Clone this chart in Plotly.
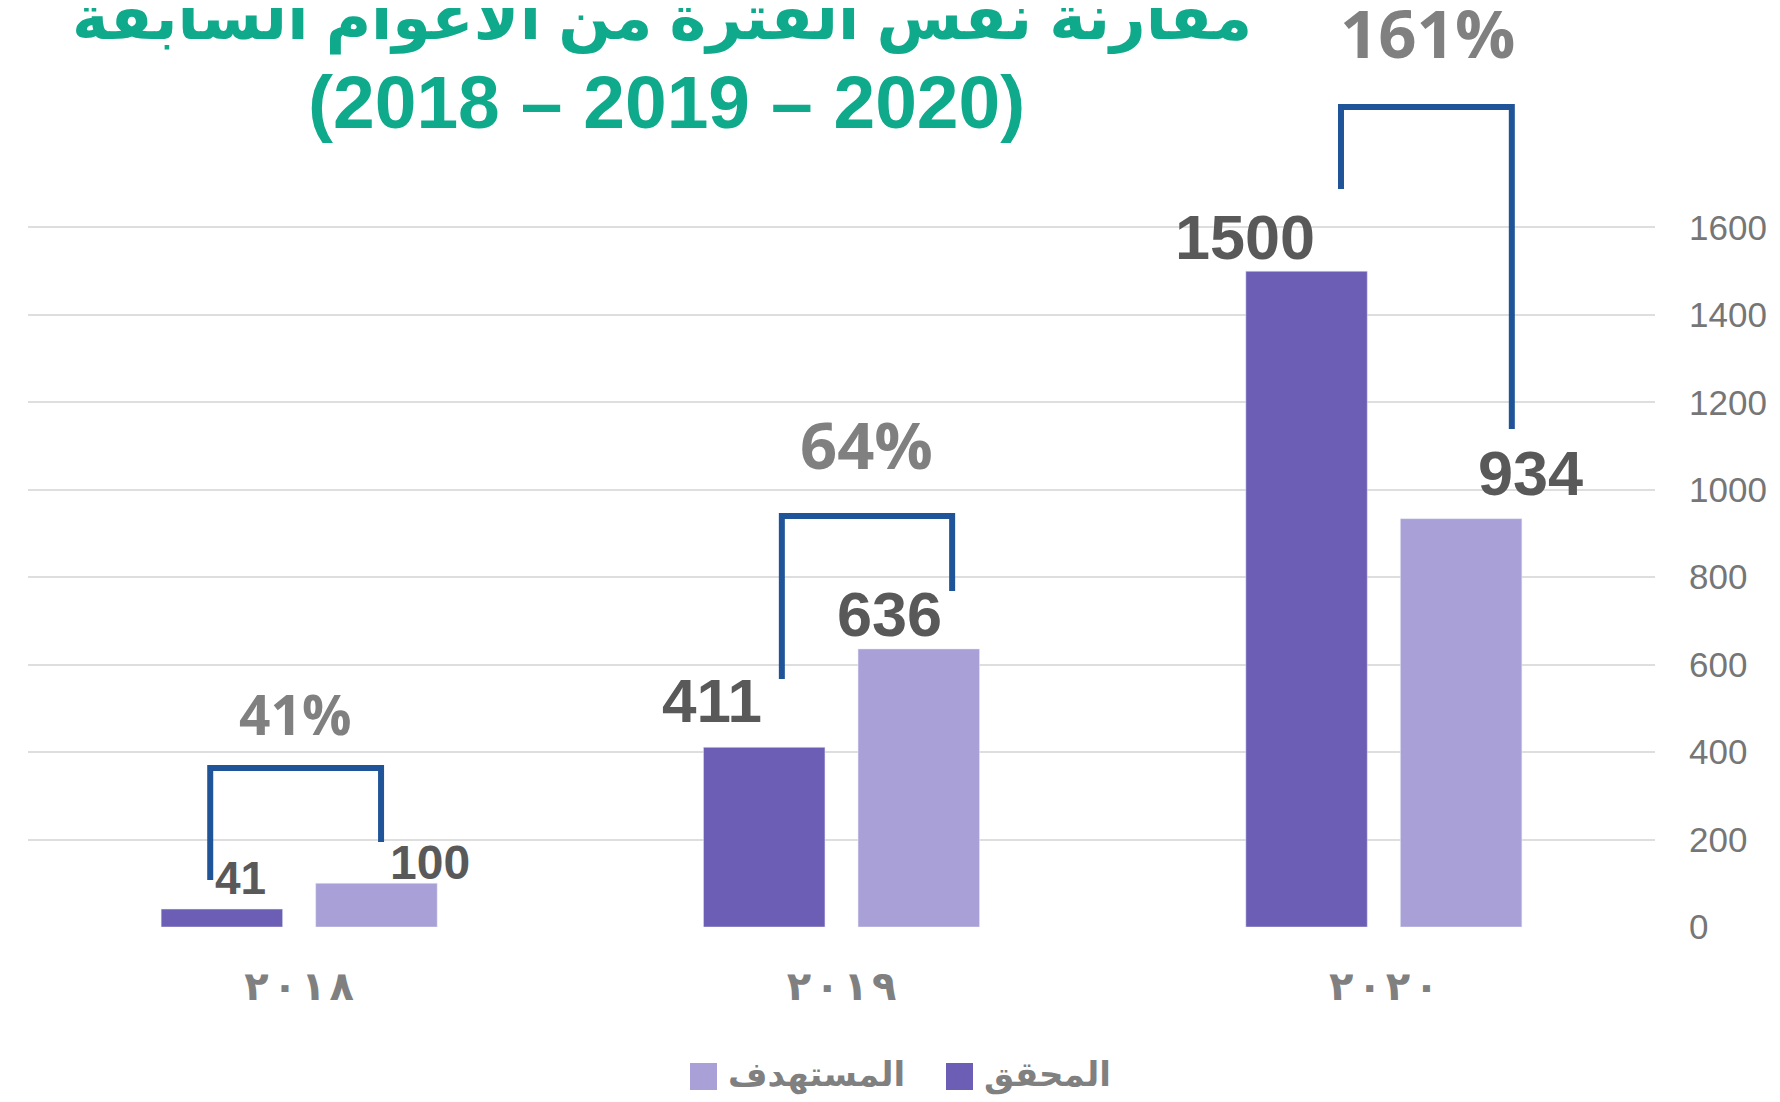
import plotly.graph_objects as go

# Data
YEARS = ["2018", "2019", "2020"]
YEAR_LABELS = ["٢٠١٨", "٢٠١٩", "٢٠٢٠"]
ACHIEVED = [41, 411, 1500]      # المحقق
TARGET = [100, 636, 934]        # المستهدف
PCT_LABELS = ["41%", "64%", "161%"]
Y_TICKS = [0, 200, 400, 600, 800, 1000, 1200, 1400, 1600]

SERIES_NAMES = ["المحقق", "المستهدف"]
TITLE_LINE1 = "مقارنة نفس الفترة من الأعوام السابقة"
TITLE_LINE2 = "(2018 – 2019 – 2020)"

# Colours
DARK = "#6C5EB5"
LIGHT = "#A8A0D6"
BRACKET = "#1F5499"
TEAL = "#0FA98B"
LABEL_GREY = "#595959"
PCT_GREY = "#808080"
AXIS_GREY = "#767676"
GRID = "#DEDEDE"

# The page body has an 8px margin, so the figure sits 8px in from the corner
OFF = 8
W, H = 1772, 1094
M_L, M_R, M_T, M_B = 20, 125, 0, 175
PLOT_W = W - M_L - M_R
PLOT_H = H - M_T - M_B
Y_MAX = 2102  # keeps 1600 at the same height as the original

BASE_FONT = "Liberation Sans, Arial, DejaVu Sans, sans-serif"
ARABIC_FONT = "DejaVu Sans, sans-serif"


def py_to_y(py):
    """Screen pixel row -> data value on the y axis."""
    return (M_T + PLOT_H - (py - OFF)) * Y_MAX / PLOT_H


def px_to_paper(px):
    return (px - OFF - M_L) / PLOT_W


def py_to_paper(py):
    return (M_T + PLOT_H - (py - OFF)) / PLOT_H


def spaced(label):
    # spread the Arabic-Indic digits a little, keep them left-to-right
    return "\u200a\u200e".join(label)


fig = go.Figure()

fig.add_trace(go.Bar(x=YEARS, y=ACHIEVED, name=SERIES_NAMES[0],
                     marker=dict(color=DARK), showlegend=False, hoverinfo="y"))
fig.add_trace(go.Bar(x=YEARS, y=TARGET, name=SERIES_NAMES[1],
                     marker=dict(color=LIGHT), showlegend=False, hoverinfo="y"))

# value labels (hand placed in the original, offsets in px from category centre)
label_dx = [[-59, -130, -139], [131, 48, 147]]
label_gap = [[15, 25, 13], [4, 13, 24]]
label_size = [[46, 62, 63], [48, 63, 63]]
annotations = []
for s, values in enumerate([ACHIEVED, TARGET]):
    for i, v in enumerate(values):
        fs = label_size[s][i]
        annotations.append(dict(
            x=i, y=v, xref="x", yref="y", text=f"<b>{v}</b>", showarrow=False,
            xanchor="center", yanchor="bottom",
            xshift=label_dx[s][i], yshift=label_gap[s][i] - (0.212 * fs + 2),
            font=dict(family=BASE_FONT, size=fs, color=LABEL_GREY)))

# brackets comparing achieved vs target
br_left = [-0.164, 0.890, 1.921]
br_right = [0.151, 1.204, 2.236]
br_top = [768, 516, 107]
br_left_bottom = [880, 679, 189]
br_right_bottom = [842, 591, 429]
shapes = []
for i in range(len(YEARS)):
    path = (f"M{br_left[i]},{py_to_y(br_left_bottom[i])} "
            f"L{br_left[i]},{py_to_y(br_top[i])} "
            f"L{br_right[i]},{py_to_y(br_top[i])} "
            f"L{br_right[i]},{py_to_y(br_right_bottom[i])}")
    shapes.append(dict(type="path", path=path, xref="x", yref="y",
                       line=dict(color=BRACKET, width=6)))

pct_x = [-0.008, 1.047, 2.080]
pct_base = [738, 472, 62]
pct_size = [55, 65, 67]
for i, txt in enumerate(PCT_LABELS):
    fs = pct_size[i]
    annotations.append(dict(
        x=pct_x[i], y=py_to_y(pct_base[i]), xref="x", yref="y", text=txt,
        showarrow=False, xanchor="center", yanchor="bottom",
        yshift=-(0.24 * fs + 2),
        font=dict(family="Open Sans, sans-serif", size=fs, color=PCT_GREY, weight=700)))

# title, two lines
annotations.append(dict(
    x=px_to_paper(662), y=py_to_paper(42), xref="paper", yref="paper",
    text=f"<b>{TITLE_LINE1}</b>", showarrow=False, xanchor="center", yanchor="bottom",
    yshift=-(0.212 * 62 + 2),
    font=dict(family=BASE_FONT, size=62, color=TEAL)))
annotations.append(dict(
    x=px_to_paper(666), y=py_to_paper(128), xref="paper", yref="paper",
    text=f"<b>{TITLE_LINE2}</b>", showarrow=False, xanchor="center", yanchor="bottom",
    yshift=-(0.212 * 75 + 2),
    font=dict(family=BASE_FONT, size=75, color=TEAL)))

# legend drawn by hand so the swatches can be large
legend_items = [(SERIES_NAMES[1], LIGHT, 690), (SERIES_NAMES[0], DARK, 946)]
for name, color, sx in legend_items:
    shapes.append(dict(type="rect", xref="paper", yref="paper",
                       x0=px_to_paper(sx), x1=px_to_paper(sx + 27),
                       y0=py_to_paper(1090), y1=py_to_paper(1063),
                       line=dict(width=0), fillcolor=color))
    annotations.append(dict(
        x=px_to_paper(sx + 36), y=py_to_paper(1074), xref="paper", yref="paper",
        text=f"<b>{name}</b>", showarrow=False, xanchor="left", yanchor="middle",
        font=dict(family=ARABIC_FONT, size=34, color=PCT_GREY)))

fig.update_layout(
    width=W, height=H,
    margin=dict(l=M_L, r=M_R, t=M_T, b=M_B),
    paper_bgcolor="white", plot_bgcolor="white",
    barmode="group", bargap=0.43, bargroupgap=0.214,
    showlegend=False,
    font=dict(family=BASE_FONT, color=AXIS_GREY),
    xaxis=dict(
        type="category", tickvals=YEARS, ticktext=[spaced(t) for t in YEAR_LABELS],
        showgrid=False, zeroline=False, showline=False, ticks="",
        tickfont=dict(family=ARABIC_FONT, size=40, color=PCT_GREY, weight=700),
        ticklabelstandoff=32),
    yaxis=dict(
        side="right", range=[0, Y_MAX], tickvals=Y_TICKS,
        showgrid=True, gridcolor=GRID, gridwidth=2, zeroline=False, showline=False,
        ticks="", tickfont=dict(family=BASE_FONT, size=35, color=AXIS_GREY),
        ticklabelstandoff=33),
    annotations=annotations,
    shapes=shapes,
)

fig.write_html("out.html")
